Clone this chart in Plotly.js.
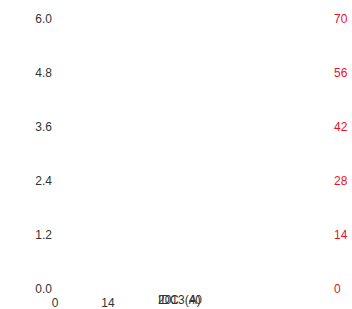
<!DOCTYPE html>
<html><head><script src="https://cdn.plot.ly/plotly-3.0.1.min.js"></script>
<style>body{margin:0}</style></head><body><div id="c" style="width:352px;height:309px"></div>
<script>
const xTicks=[0,14];
const leftTicks=[0,1.2,2.4,3.6,4.8,6.0];
const rightTicks=[0,14,28,42,56,70];
const xTitle="2013(A)";
const x2Title="IDC\u00a0\u00a0\u00a040";
const traces=[
 {x:[],y:[],type:'scatter',mode:'lines',xaxis:'x',yaxis:'y',showlegend:false},
 {x:[],y:[],type:'scatter',mode:'lines',xaxis:'x',yaxis:'y2',showlegend:false}
];
const font={family:'Liberation Sans, Arial',size:12,color:'#333'};
const L=55,R=19,W=352;
const px=(156-L)/(W-L-R);
Plotly.newPlot('c',traces,{
 width:352,height:309,margin:{l:L,r:R,t:19,b:20},
 paper_bgcolor:'#fff',plot_bgcolor:'#fff',showlegend:false,
 xaxis:{range:[0,73.4],tickvals:xTicks,ticktext:xTicks.map(String),showgrid:false,zeroline:false,showline:false,ticks:'',tickfont:font,ticklabelstandoff:5},
 yaxis:{range:[0,6],tickvals:leftTicks,ticktext:leftTicks.map(v=>v.toFixed(1)),showgrid:false,zeroline:false,showline:false,ticks:'',tickfont:font,ticklabelstandoff:2},
 yaxis2:{range:[0,70],overlaying:'y',side:'right',tickvals:rightTicks,showgrid:false,zeroline:false,showline:false,ticks:'',tickfont:{family:'Liberation Sans, Arial',size:12,color:'#e8122a'}},
 annotations:[
  {xref:'paper',yref:'paper',x:px,xanchor:'left',y:0,yanchor:'middle',yshift:-11,text:xTitle,showarrow:false,font:font},
  {xref:'paper',yref:'paper',x:px,xanchor:'left',y:0,yanchor:'middle',yshift:-11,text:x2Title,showarrow:false,font:font}
 ]
},{displayModeBar:false});
</script></body></html>
